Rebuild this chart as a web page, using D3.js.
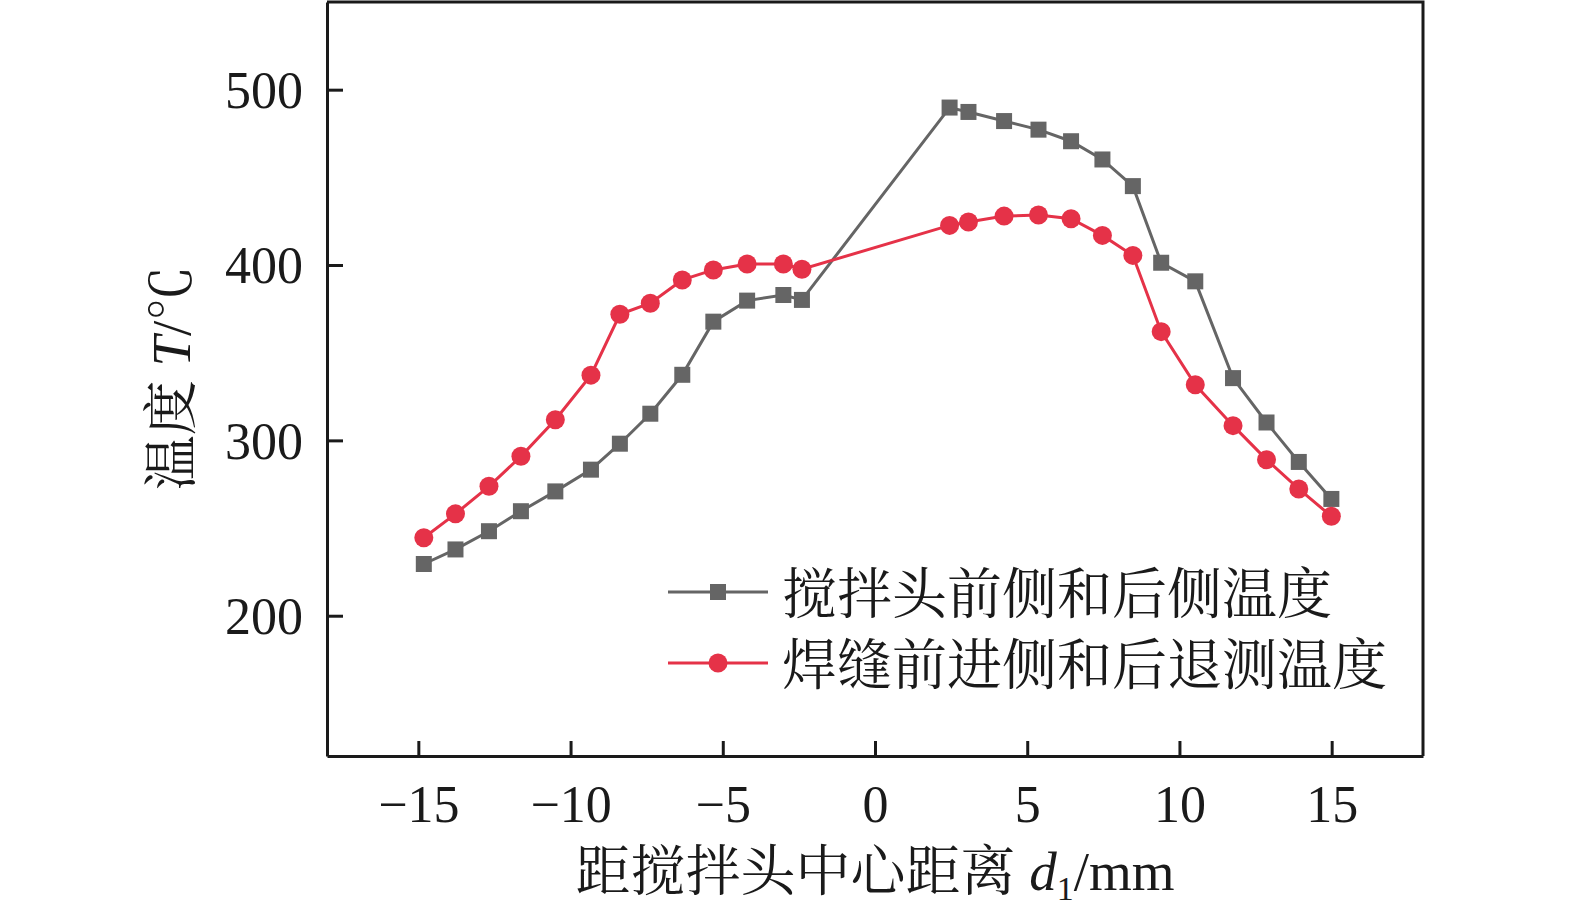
<!DOCTYPE html>
<html>
<head>
<meta charset="utf-8">
<script src="https://cdn.jsdelivr.net/npm/d3@7"></script>
<style>
  body { margin: 0; background: #fff; }
  svg text { font-family: "Liberation Serif", "Noto Serif CJK SC", "Noto Sans CJK SC", serif; fill: #1a1a1a; }
</style>
</head>
<body>
<div id="chart"></div>
<script>
// distance from tool centre, mm (shared by both series)
const distance = [-14.82, -13.78, -12.68, -11.63, -10.5, -9.33, -8.38, -7.38, -6.33, -5.31, -4.2, -3.01, -2.4,
    2.45, 3.07, 4.24, 5.37, 6.44, 7.47, 8.47, 9.4, 10.52, 11.76, 12.86, 13.92, 14.99]

// 搅拌头前侧和后侧温度
const frontBack = [229.5, 237.8, 248.2, 259.6, 270.9, 283.3, 298.1, 315.2, 337.4, 367.7, 379.7, 382.9, 380.1,
    489.8, 487.3, 482.1, 477.2, 470.6, 460.2, 445, 401.3, 390.7, 335.5, 310.2, 287.7, 266.6]

// 焊缝前进侧和后退测温度
const advRetreat = [244.5, 258.1, 273.8, 290.9, 311.8, 337.2, 371.9, 378.2, 391.5, 397.2, 400.6, 400.6, 397.6,
    422.6, 424.5, 427.9, 428.5, 426.4, 416.9, 405.5, 362.0, 331.7, 308.4, 289.0, 272.3, 256.7]

const xTicks = [-15, -10, -5, 0, 5, 10, 15]
const yTicks = [200, 300, 400, 500]

const seriesNames = ["搅拌头前侧和后侧温度", "焊缝前进侧和后退测温度"]
const GREY = "#656565", RED = "#e53248"

const W = 1575, H = 924
const margin = { top: 2, right: 152, bottom: 168, left: 327 }
const width = W - margin.left - margin.right,
    height = H - margin.top - margin.bottom

const svg = d3.select("#chart").append("svg")
    .attr("width", W).attr("height", H)

const g = svg.append("g")
    .attr("transform", "translate(" + margin.left + "," + margin.top + ")")

const x = d3.scaleLinear().domain([-18, 18]).range([0, width])
const y = d3.scaleLinear().domain([120, 550]).range([height, 0])

// frame (top + right)
g.append("path")
    .attr("d", `M0,0H${width}V${height}`)
    .attr("fill", "none").attr("stroke", "#1a1a1a").attr("stroke-width", 3)

// axes with inward ticks
const xAxis = g.append("g")
    .attr("transform", "translate(0," + height + ")")
    .call(d3.axisBottom(x).tickValues(xTicks).tickSize(-15).tickPadding(0).tickSizeOuter(0))
const yAxis = g.append("g")
    .call(d3.axisLeft(y).tickValues(yTicks).tickSize(-16).tickSizeOuter(0))

;[xAxis, yAxis].forEach(a => {
    a.select(".domain").attr("stroke", "#1a1a1a").attr("stroke-width", 3)
    a.selectAll(".tick line").attr("stroke", "#1a1a1a").attr("stroke-width", 3)
    a.selectAll(".tick text").attr("font-size", 52).attr("fill", "#1a1a1a")
        .style("font-family", "'Liberation Serif', serif")
})
xAxis.selectAll(".tick text").attr("y", 66).attr("dy", 0)
yAxis.selectAll(".tick text").attr("x", -24).attr("dy", "0.34em")

// data lines
const series = [
    { name: seriesNames[0], values: frontBack, color: GREY, shape: "square" },
    { name: seriesNames[1], values: advRetreat, color: RED, shape: "circle" },
]

const line = d3.line().x((d, i) => x(distance[i])).y(d => y(d))

function drawMarker(sel, shape, color) {
    if (shape === "square") {
        sel.append("rect").attr("x", -8).attr("y", -8).attr("width", 16).attr("height", 16).attr("fill", color)
    } else {
        sel.append("circle").attr("r", 9.5).attr("fill", color)
    }
}

series.forEach(s => {
    g.append("path")
        .datum(s.values)
        .attr("d", line)
        .attr("fill", "none")
        .attr("stroke", s.color)
        .attr("stroke-width", 3)

    g.selectAll(null)
        .data(s.values)
        .enter().append("g")
        .attr("transform", (d, i) => "translate(" + x(distance[i]) + "," + y(d) + ")")
        .each(function () { drawMarker(d3.select(this), s.shape, s.color) })
})

// legend
const legend = svg.append("g")
series.forEach((s, i) => {
    const ly = 592 + i * 71
    const row = legend.append("g").attr("transform", "translate(668," + ly + ")")
    row.append("line").attr("x1", 0).attr("x2", 100).attr("stroke", s.color).attr("stroke-width", 3)
    drawMarker(row.append("g").attr("transform", "translate(50,0)"), s.shape, s.color)
    row.append("text").attr("x", 114).attr("dy", "0.38em")
        .attr("font-size", 55).text(s.name)
})

// axis titles
const xt = svg.append("text")
    .attr("x", margin.left + x(0)).attr("y", 890)
    .attr("text-anchor", "middle").attr("font-size", 55)
xt.append("tspan").text("距搅拌头中心距离 ")
xt.append("tspan").attr("font-style", "italic").text("d")
xt.append("tspan").attr("font-size", 34).attr("dy", 10).text("1")
xt.append("tspan").attr("dy", -10).text("/mm")

const yt = svg.append("text")
    .attr("transform", "translate(190," + 378 + ") rotate(-90)")
    .attr("text-anchor", "middle").attr("font-size", 55)
yt.append("tspan").text("温度 ")
yt.append("tspan").attr("font-style", "italic").text("T")
yt.append("tspan").text("/℃")
</script>
</body>
</html>
